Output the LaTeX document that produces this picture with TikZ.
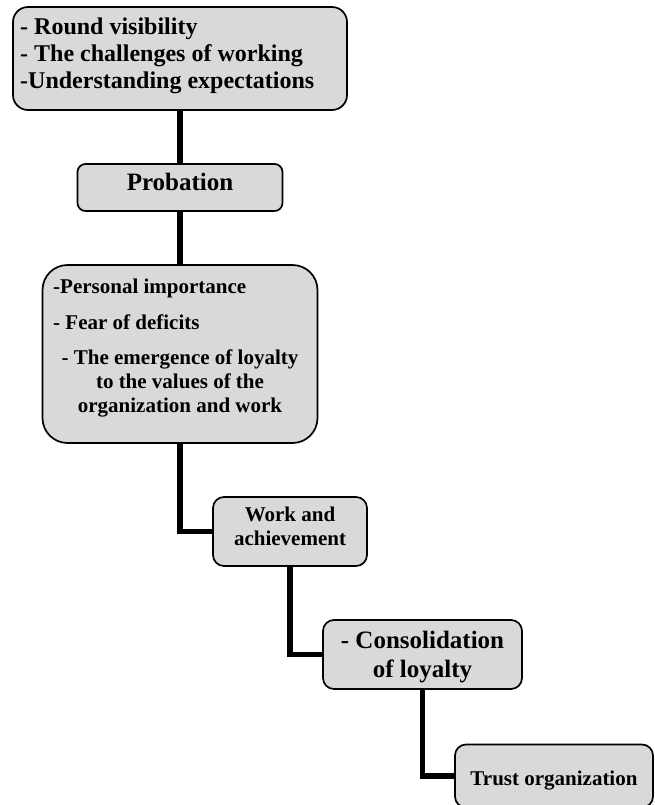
\documentclass[tikz,border=0pt]{standalone}
\usepackage{fontspec}
\setmainfont{Liberation Serif}
\usetikzlibrary{backgrounds}
\definecolor{boxgray}{RGB}{217,217,217}
\begin{document}
\begin{tikzpicture}[x=1pt,y=-1pt,
  box/.style={draw=black, line width=1.7pt, fill=boxgray, rounded corners=#1, inner sep=0pt},
  box/.default=10pt,
  conn/.style={draw=black, line width=5.8pt},
  txtA/.style={font=\fontsize{24}{27}\selectfont\bfseries, inner sep=0pt},
  txtB/.style={font=\fontsize{25}{28}\selectfont\bfseries, inner sep=0pt},
  txtC/.style={font=\fontsize{21}{24}\selectfont\bfseries, inner sep=0pt}]
\clip (0,0) rectangle (655,805);
% boxes
\node[box=15pt, minimum width=334pt, minimum height=103pt] (b1) at (180,58.5) {};
\node[box=8pt, minimum width=205pt, minimum height=47pt] (b2) at (180,187.5) {};
\node[box=25pt, minimum width=275pt, minimum height=178pt] (b3) at (180,354) {};
\node[box=11pt, minimum width=154pt, minimum height=69pt] (b4) at (290,531.5) {};
\node[box=11pt, minimum width=199pt, minimum height=69pt] (b5) at (422.5,654.5) {};
\node[box=11pt, minimum width=198pt, minimum height=63pt] (b6) at (554,776) {};
% connectors
\begin{scope}[on background layer]
\draw[conn] (b1.south) -- (b2.north);
\draw[conn] (b2.south) -- (b3.north);
\draw[conn] (b3.south) |- (b4.west);
\draw[conn] (b4.south) |- (b5.west);
\draw[conn] (b5.south) |- (b6.west);
\end{scope}
% texts
\node[txtA, anchor=base west] (t1a) at (20,35) {- Round visibility};
\node[txtA, anchor=base west] (t1b) at (20,62) {- The challenges of working};
\node[txtA, anchor=base west] (t1c) at (20,89) {-Understanding expectations};
\node[txtB, anchor=base] (t2) at (180,190) {Probation};
\node[txtC, anchor=base west] (t3a) at (53,293) {-Personal importance};
\node[txtC, anchor=base west] (t3b) at (53,329.5) {- Fear of deficits};
\node[txtC, anchor=base] (t3c) at (180,364.5) {- The emergence of loyalty};
\node[txtC, anchor=base] (t3d) at (180,388.5) {to the values of the};
\node[txtC, anchor=base] (t3e) at (180,412) {organization and work};
\node[txtC, anchor=base] (t4a) at (290,521) {Work and};
\node[txtC, anchor=base] (t4b) at (290,545) {achievement};
\node[txtB, anchor=base] (t5a) at (422.5,648) {- Consolidation};
\node[txtB, anchor=base] (t5b) at (422.5,677) {of loyalty};
\node[txtC, anchor=base] (t6) at (554,785) {Trust organization};
\end{tikzpicture}
\end{document}
